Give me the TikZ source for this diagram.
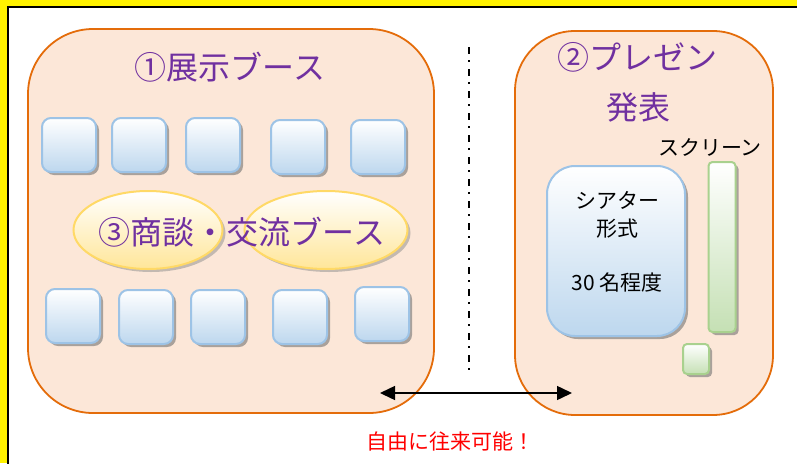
\documentclass[tikz,border=0pt]{standalone}
\usepackage{fontspec}
\setmainfont{Noto Sans CJK JP}
\usepackage{xcolor}
\usepackage{tikz}
\usetikzlibrary{arrows.meta,shapes.geometric,shadows}

\definecolor{zonefill}{RGB}{252,231,216}
\definecolor{zoneline}{RGB}{228,108,10}
\definecolor{titlepurple}{RGB}{112,48,160}
\definecolor{boothline}{RGB}{157,195,230}
\definecolor{boothfill}{RGB}{189,215,238}
\definecolor{talkline}{RGB}{255,217,102}
\definecolor{talkfill}{RGB}{255,230,153}
\definecolor{screenline}{RGB}{169,209,142}
\definecolor{screenfill}{RGB}{197,224,180}

\tikzset{
	zone/.style={draw=zoneline, fill=zonefill, line width=1.8pt, rounded corners=#1, inner sep=0pt},
	booth/.style={draw=boothline, line width=2pt, rounded corners=9pt, top color=white, bottom color=boothfill,
		minimum width=54pt, minimum height=54pt, inner sep=0pt,
		drop shadow={shadow xshift=3pt, shadow yshift=-3pt, fill=black!55, opacity=0.6}},
	talk/.style={ellipse, draw=talkline, line width=2pt, top color=white, bottom color=talkfill,
		minimum height=78pt, inner sep=0pt,
		drop shadow={shadow xshift=3pt, shadow yshift=-3pt, fill=black!45, opacity=0.5}},
	greenbox/.style={draw=screenline, line width=2pt, rounded corners=4pt, top color=white, bottom color=screenfill,
		inner sep=0pt, drop shadow={shadow xshift=3pt, shadow yshift=-3pt, fill=black!55, opacity=0.6}},
	bigtitle/.style={text=titlepurple, font=\fontsize{32}{38}\selectfont},
	smalltext/.style={font=\fontsize{21}{28}\selectfont}
}

\begin{document}
\begin{tikzpicture}[x=1pt,y=-1pt]
		\useasboundingbox (0,0) rectangle (797,463);
		% frame
		\fill[yellow] (0,0) rectangle (797,463);
		\draw[line width=2pt, fill=white] (7.5,7) rectangle (810,475);
		%
		\node[zone=65pt, minimum width=406pt, minimum height=384pt] (Z1) at (231,221) {};
		\node[zone=60pt, minimum width=258pt, minimum height=384pt] (Z2) at (644,223) {};
		%
		\coordinate (D1) at (469,47);
		\coordinate (D2) at (469,370);
		\draw[line width=2pt, dash pattern=on 7pt off 6pt on 1.5pt off 7.5pt] (D1) -- (D2);
		%
		\node[booth] (B1) at (69,145) {};
		\node[booth] (B2) at (139,145) {};
		\node[booth] (B3) at (213,145) {};
		\node[booth] (B4) at (298,147) {};
		\node[booth] (B5) at (378,147) {};
		\node[booth] (C1) at (73,316) {};
		\node[booth] (C2) at (146,317) {};
		\node[booth] (C3) at (218,317) {};
		\node[booth] (C4) at (300,317) {};
		\node[booth] (C5) at (382,314) {};
		%
		\node[talk, minimum width=149pt] (E1) at (148,230) {};
		\node[talk, minimum width=163pt] (E2) at (326,230) {};
		%
		\node[greenbox, rounded corners=28pt, draw=boothline, bottom color=boothfill,
			minimum width=138pt, minimum height=170pt] (TH) at (616,251) {};
		\node[greenbox, minimum width=27pt, minimum height=170pt] (SC) at (722,247) {};
		\node[greenbox, minimum width=26pt, minimum height=30pt] (SP) at (696,359) {};
		%
		\node[bigtitle] (T1) at (230,67) {①展示ブース};
		\node[bigtitle] (T2) at (637,57) {②プレゼン};
		\node[bigtitle] (T2') at (638,107) {発表};
		\node[bigtitle] (T3) at (242,232) {③商談・交流ブース};
		\node[smalltext] (L1) at (710,147) {スクリーン};
		\node[smalltext, align=center] (L2) at (617,242) {シアター\\形式\\[26pt]30 名程度};
		\node[smalltext, text=red] (L3) at (450,442) {自由に往来可能！};
		%
		\coordinate (G1) at (380,393);
		\coordinate (G2) at (572,393);
		\path[{Triangle[length=15pt,width=14pt]}-{Triangle[length=15pt,width=14pt]}, line width=1.5pt]
		(G1) edge (G2);
	\end{tikzpicture}
\end{document}
